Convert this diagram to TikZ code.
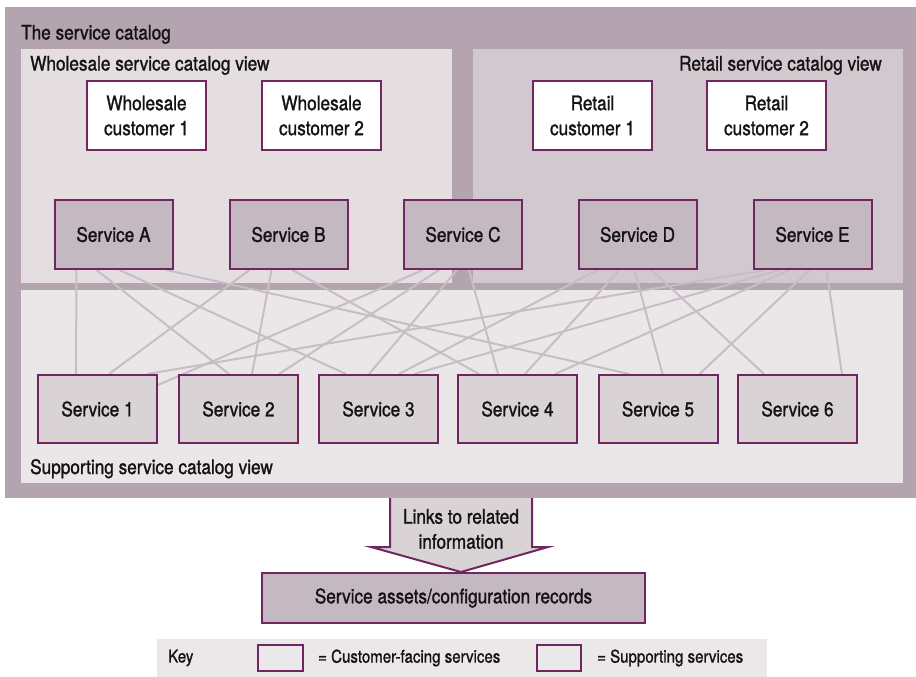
\documentclass[tikz,border=0pt]{standalone}
\usepackage{fontspec}
\setmainfont{TeX Gyre Heros}[FakeStretch=0.86, FakeBold=1.2]
\pgfdeclarelayer{panels}
\pgfdeclarelayer{links}
\pgfsetlayers{panels,links,main}

\definecolor{framefill}{RGB}{180,164,175}
\definecolor{wholefill}{RGB}{228,222,225}
\definecolor{retailfill}{RGB}{210,201,207}
\definecolor{suppfill}{RGB}{235,231,233}
\definecolor{cfsfill}{RGB}{196,185,193}
\definecolor{ssfill}{RGB}{217,211,214}
\definecolor{edge}{RGB}{112,38,96}
\definecolor{linkcol}{RGB}{199,190,197}
\definecolor{keyfill}{RGB}{235,232,234}
\definecolor{ink}{RGB}{20,18,20}

\tikzset{
  txt/.style={font=\fontsize{20}{25}\selectfont, text=ink},
  keytxt/.style={font=\fontsize{17.5}{21}\selectfont, text=ink},
  boxbase/.style={draw=edge, line width=2pt, txt, align=center, inner sep=0pt},
  customer/.style={boxbase, fill=white, minimum width=119pt, minimum height=69pt},
  cfsvc/.style={boxbase, fill=cfsfill, minimum width=118pt, minimum height=69pt},
  suppsvc/.style={boxbase, fill=ssfill, minimum width=119pt, minimum height=68pt},
  link/.style={draw=linkcol, line width=2pt},
  title/.style={txt, inner sep=0pt},
}
% connector from a customer-facing service to a supporting service
\newcommand{\lnk}[4]{\draw[link] ([xshift=#2pt]#1.south west) -- ([xshift=#4pt]#3.north west);}

\begin{document}
\begin{tikzpicture}[x=1pt, y=-1pt]
\useasboundingbox (0,0) rectangle (916,677);

% catalog frame and the three views
\begin{pgfonlayer}{panels}
  \fill[framefill] (5,7) rectangle (916,498);
  \fill[wholefill] (21,49) rectangle (452,283);
  \fill[retailfill] (473,49) rectangle (903,283);
  \fill[suppfill] (21,290) rectangle (903,483);
\end{pgfonlayer}

\node[title, anchor=base west] (tcat) at (21,39.5) {The service catalog};
\node[title, anchor=base west] (twhole) at (30,70.5) {Wholesale service catalog view};
\node[title, anchor=base east] (tretail) at (882,70.5) {Retail service catalog view};
\node[title, anchor=base west] (tsupp) at (30,474) {Supporting service catalog view};

% customers
\node[customer] (w1) at (146.5,115.5) {Wholesale\\customer 1};
\node[customer] (w2) at (321.5,115.5) {Wholesale\\customer 2};
\node[customer] (r1) at (592.5,115.5) {Retail\\customer 1};
\node[customer] (r2) at (766.5,115.5) {Retail\\customer 2};

% customer-facing services
\node[cfsvc] (A) at (113.5,234.5) {Service A};
\node[cfsvc] (B) at (288.5,234.5) {Service B};
\node[cfsvc] (C) at (463,234.5) {Service C};
\node[cfsvc] (D) at (637.5,234.5) {Service D};
\node[cfsvc] (E) at (812.5,234.5) {Service E};

% supporting services
\node[suppsvc] (s1) at (97.5,409) {Service 1};
\node[suppsvc] (s2) at (238.5,409) {Service 2};
\node[suppsvc] (s3) at (378.5,409) {Service 3};
\node[suppsvc] (s4) at (517.5,409) {Service 4};
\node[suppsvc] (s5) at (658,409) {Service 5};
\node[suppsvc] (s6) at (797.5,409) {Service 6};

% dependencies
\begin{pgfonlayer}{links}
  \lnk{A}{23}{s1}{39}
  \lnk{A}{43}{s2}{51}
  \lnk{A}{66}{s3}{28}
  \lnk{A}{113}{s5}{32}
  \lnk{B}{21}{s1}{72}
  \lnk{B}{43}{s2}{74}
  \lnk{B}{64}{s4}{22}
  \draw[link] ([xshift=20pt]C.south west) -- ([yshift=-11pt]s1.north east);
  \lnk{C}{36}{s2}{101}
  \lnk{C}{54}{s3}{51}
  \lnk{C}{66}{s4}{41}
  \lnk{D}{20}{s3}{81}
  \lnk{D}{42}{s4}{68}
  \lnk{D}{57}{s5}{65}
  \lnk{D}{74}{s6}{27}
  \lnk{E}{12}{s1}{110}
  \lnk{E}{27}{s3}{96}
  \lnk{E}{37}{s4}{98}
  \lnk{E}{57}{s5}{102}
  \lnk{E}{74}{s6}{105}
\end{pgfonlayer}

% link to configuration records
\node[boxbase, fill=cfsfill, minimum width=383pt, minimum height=50pt] (rec) at (453.5,598) {Service assets/configuration records};
\coordinate (arrtop) at (461,498);
\fill[ssfill] (390,498) -- (390,547) -- (371,547) -- (rec.north -| arrtop) -- (548,547) -- (532,547) -- (532,498) -- cycle;
\draw[edge, line width=2pt, line join=miter] (390,498) -- (390,547) -- (371,547) -- (rec.north -| arrtop) -- (548,547) -- (532,547) -- (532,498);
\node[txt, align=center, inner sep=0pt] (arrtxt) at (461,529) {Links to related\\information};

% key
\fill[keyfill] (157,639) rectangle (767,677);
\node[keytxt, anchor=west, inner sep=0pt] (keylbl) at (168,658) {Key};
\node[draw=edge, line width=2pt, fill=keyfill, minimum width=45pt, minimum height=26pt, inner sep=0pt] (kc) at (280.5,658) {};
\node[keytxt, anchor=west, inner sep=0pt] (kct) at (318,658) {= Customer-facing services};
\node[draw=edge, line width=2pt, fill=keyfill, minimum width=44pt, minimum height=26pt, inner sep=0pt] (ks) at (559,658) {};
\node[keytxt, anchor=west, inner sep=0pt] (kst) at (597,658) {= Supporting services};
\end{tikzpicture}
\end{document}
